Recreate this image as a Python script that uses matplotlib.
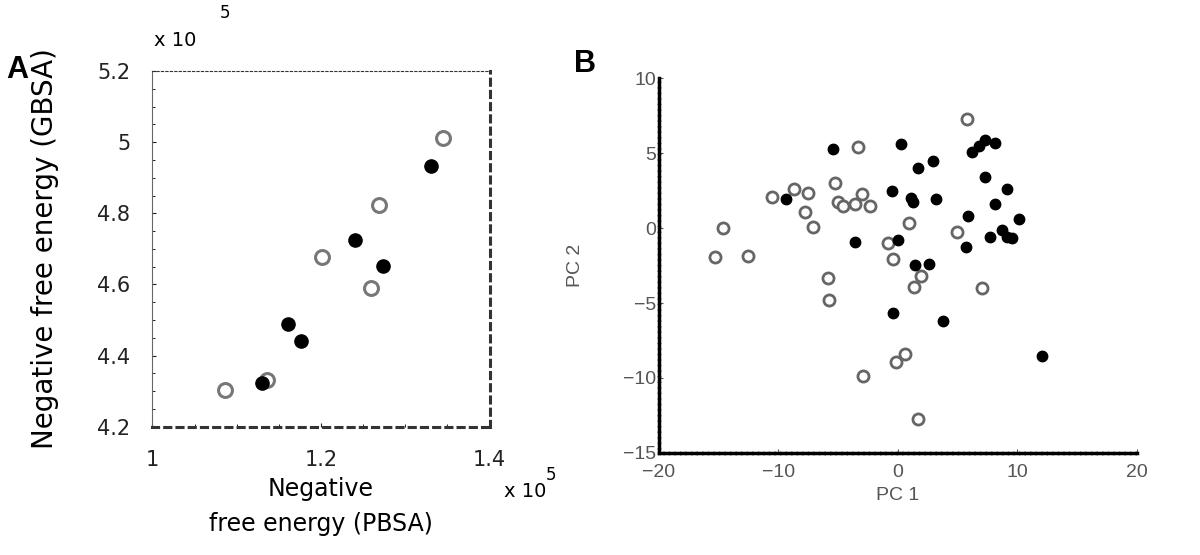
import matplotlib
matplotlib.use("Agg")
import matplotlib.pyplot as plt
import numpy as np

# panel A: negative free energy, PBSA (x) vs GBSA (y), units of 1e5
a_open_x = [1.086, 1.136, 1.201, 1.259, 1.269, 1.345]
a_open_y = [4.304, 4.332, 4.678, 4.590, 4.824, 5.013]
a_fill_x = [1.130, 1.161, 1.176, 1.240, 1.274, 1.330]
a_fill_y = [4.323, 4.489, 4.440, 4.725, 4.653, 4.933]

# panel B: PCA scores
b_open_x = [5.8, -3.37, -10.57, -8.7, -7.56, -7.78, -7.09, -5.27, -4.99, -4.57,
            -3.6, -2.98, -2.34, -14.67, -15.3, -12.5, -0.81, -0.39, 0.95, 4.91,
            -5.88, -5.8, 1.94, 1.36, 7.04, 0.58, -0.2, -2.89, 1.7]
b_open_y = [7.31, 5.42, 2.05, 2.58, 2.35, 1.09, 0.09, 2.98, 1.75, 1.47,
            1.64, 2.27, 1.47, -0.02, -1.91, -1.87, -0.98, -2.08, 0.31, -0.29,
            -3.35, -4.78, -3.18, -3.96, -4.02, -8.4, -8.96, -9.84, -12.73]
b_fill_x = [-5.41, 0.22, 1.7, 2.9, 6.2, 6.8, 7.3, 8.1, 7.28, 9.15,
            8.12, 10.16, 5.9, -9.37, -0.53, 1.06, 1.29, 3.18, -3.6, 0.03,
            5.69, 7.7, 8.68, 9.1, 9.52, 1.42, 2.62, -0.44, 3.8, 12.07]
b_fill_y = [5.25, 5.64, 4.02, 4.49, 5.1, 5.5, 5.9, 5.65, 3.42, 2.58,
            1.58, 0.64, 0.82, 1.91, 2.49, 2.04, 1.76, 1.91, -0.91, -0.8,
            -1.29, -0.58, -0.13, -0.62, -0.69, -2.47, -2.4, -5.69, -6.18, -8.51]

plt.rcParams['font.family'] = ['Liberation Sans', 'DejaVu Sans']
fa = ['DejaVu Sans']

fig = plt.figure(figsize=(12, 5.55), dpi=100)

# ---- panel A
ax1 = fig.add_axes([0.127, 0.231, 0.281, 0.641])
ax1.plot(a_open_x, a_open_y, 'o', ms=10, mfc='white', mec='#777777', mew=2.2)
ax1.plot(a_fill_x, a_fill_y, 'o', ms=9.5, mfc='black', mec='black')
ax1.set_xlim(1.0, 1.4)
ax1.set_ylim(4.2, 5.2)
ax1.set_xticks([1.0, 1.2, 1.4])
ax1.set_xticklabels(['1', '1.2', '1.4'], family=fa)
ax1.set_yticks([4.2, 4.4, 4.6, 4.8, 5.0, 5.2])
ax1.set_yticklabels(['4.2', '4.4', '4.6', '4.8', '5', '5.2'], family=fa)
ax1.tick_params(direction='in', length=3, labelsize=15, colors='#222222')
ax1.tick_params(axis='y', pad=16)
ax1.tick_params(axis='x', pad=17)
ax1.minorticks_on()
ax1.tick_params(which='minor', direction='in', length=2)
ax1.spines['left'].set_color('#666666')
for s in ['top', 'right', 'bottom']:
    ax1.spines[s].set_linestyle((0, (2, 2)))
    ax1.spines[s].set_color('#333333')
ax1.spines['right'].set_linewidth(2.2)
ax1.spines['bottom'].set_linewidth(2.2)
ax1.set_xlabel('Negative\nfree energy (PBSA)', fontsize=17, family=fa,
               labelpad=5, linespacing=1.55)
ax1.set_ylabel('Negative free energy (GBSA)', fontsize=20, family=fa, labelpad=27)
fig.text(0.128, 0.918, 'x 10', fontsize=14, family=fa)
fig.text(0.183, 0.968, '5', fontsize=12, family=fa)
fig.text(0.42, 0.105, 'x 10', fontsize=14, family=fa)
fig.text(0.455, 0.135, '5', fontsize=12, family=fa)
fig.text(0.005, 0.86, 'A', fontsize=22, fontweight='bold')

# ---- panel B
ax2 = fig.add_axes([0.549, 0.184, 0.3985, 0.675])
ax2.plot(b_open_x, b_open_y, 'o', ms=8, mfc='white', mec='#666666', mew=2)
ax2.plot(b_fill_x, b_fill_y, 'o', ms=7.5, mfc='black', mec='black')
ax2.set_xlim(-20, 20)
ax2.set_ylim(-15, 10)
ax2.set_xticks([-20, -10, 0, 10, 20])
ax2.set_yticks([-15, -10, -5, 0, 5, 10])
ax2.set_xticklabels(['\u221220', '\u221210', '0', '10', '20'])
ax2.set_yticklabels(['\u221215', '\u221210', '\u22125', '0', '5', '10'])
ax2.spines['top'].set_visible(False)
ax2.spines['right'].set_visible(False)
for s in ['left', 'bottom']:
    ax2.spines[s].set_linewidth(2.5)
    ax2.spines[s].set_linestyle((0, (1, 0.6)))
ax2.tick_params(direction='in', length=3, labelsize=14, colors='#555555', pad=2)
ax2.tick_params(axis='x', pad=8)
ax2.set_xlabel('PC 1', fontsize=14, color='#555555', labelpad=4)
ax2.set_ylabel('PC 2', fontsize=14, color='#555555', labelpad=28)
fig.text(0.478, 0.87, 'B', fontsize=22, fontweight='bold')

fig.savefig('out.png', dpi=100)
